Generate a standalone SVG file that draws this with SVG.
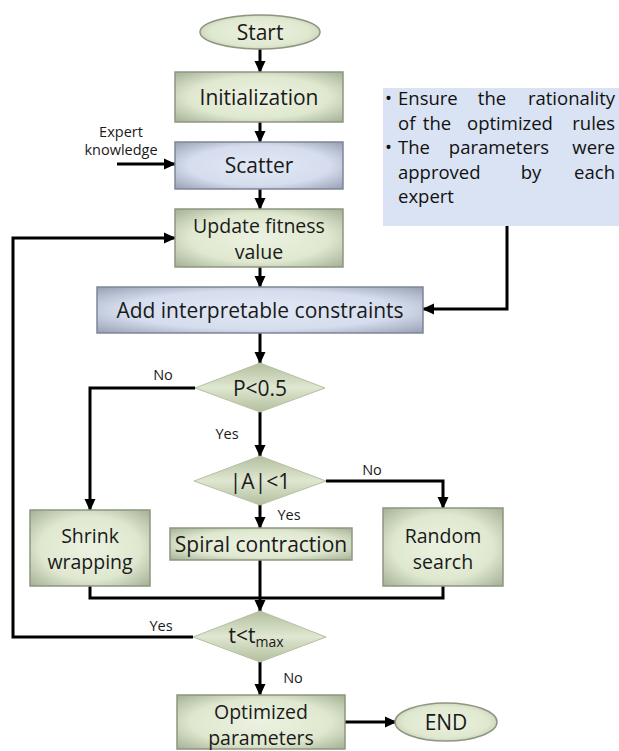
<svg xmlns="http://www.w3.org/2000/svg" width="619" height="751" viewBox="0 0 619 751">
<style>
.lbl{font-family:"Open Sans","Noto Sans",sans-serif;font-size:21px;fill:#1a1a1a;text-anchor:middle;dominant-baseline:central}
.l2{font-size:19.5px}
.sm{font-family:"Open Sans","Noto Sans",sans-serif;font-size:14.5px;fill:#1a1a1a;text-anchor:middle;dominant-baseline:central}
.note{font-family:"Open Sans","Noto Sans",sans-serif;font-size:18.5px;fill:#111}
.e{text-anchor:end}
.m{text-anchor:middle}
.g{fill:url(#gG);stroke:#8c9680;stroke-width:1.5}
.b{fill:url(#gB);stroke:#7d8699;stroke-width:1.5}
.d{fill:url(#gD);stroke:#b5c0a3;stroke-width:1}
.c{fill:none;stroke:#000;stroke-width:3}
</style>
<defs>
<radialGradient id="gG" cx="50%" cy="50%" r="70%">
<stop offset="0" stop-color="#ecf2e1"/><stop offset="0.6" stop-color="#dfe8cf"/><stop offset="1" stop-color="#a5b095"/>
</radialGradient>
<radialGradient id="gB" cx="50%" cy="50%" r="70%">
<stop offset="0" stop-color="#e2e8f5"/><stop offset="0.6" stop-color="#d5ddee"/><stop offset="1" stop-color="#98a1b4"/>
</radialGradient>
<linearGradient id="gD" x1="0" y1="0" x2="0" y2="1">
<stop offset="0" stop-color="#b3bf9f"/><stop offset="0.5" stop-color="#dfe7d0"/><stop offset="1" stop-color="#b3bf9f"/>
</linearGradient>
<marker id="ah" markerUnits="userSpaceOnUse" markerWidth="12" markerHeight="12" viewBox="0 0 12 12" refX="11" refY="6" orient="auto">
<path d="M0,0.5 L12,6 L0,11.5 Z" fill="#000"/>
</marker>
</defs>

<g id="connectors">
<line class="c" x1="260" y1="49" x2="260" y2="72" marker-end="url(#ah)"/>
<line class="c" x1="260" y1="122" x2="260" y2="142" marker-end="url(#ah)"/>
<line class="c" x1="117" y1="164" x2="175" y2="164" marker-end="url(#ah)"/>
<line class="c" x1="260" y1="189" x2="260" y2="209" marker-end="url(#ah)"/>
<line class="c" x1="260" y1="267" x2="260" y2="287" marker-end="url(#ah)"/>
<polyline class="c" points="507,226 507,309 423,309" marker-end="url(#ah)"/>
<line class="c" x1="260" y1="333" x2="260" y2="363" marker-end="url(#ah)"/>
<polyline class="c" points="195,388 90,388 90,510" marker-end="url(#ah)"/>
<line class="c" x1="260" y1="412" x2="260" y2="456" marker-end="url(#ah)"/>
<polyline class="c" points="326,481 443,481 443,508" marker-end="url(#ah)"/>
<line class="c" x1="260" y1="504" x2="260" y2="528" marker-end="url(#ah)"/>
<polyline class="c" points="90,586 90,598 443,598 443,586"/>
<line class="c" x1="260" y1="560" x2="260" y2="611" marker-end="url(#ah)"/>
<polyline class="c" points="193,637 13,637 13,238 175,238" marker-end="url(#ah)"/>
<line class="c" x1="260" y1="662" x2="260" y2="695" marker-end="url(#ah)"/>
<line class="c" x1="345" y1="722" x2="396" y2="722" marker-end="url(#ah)"/>
</g>

<g id="start"><ellipse class="g" cx="260" cy="32" rx="60" ry="17"/><text class="lbl" x="260" y="32">Start</text></g>
<g id="init"><rect class="g" x="175" y="72" width="168" height="50"/><text class="lbl" x="259" y="97">Initialization</text></g>
<g id="expert"><text class="sm" x="121" y="131">Expert</text><text class="sm" x="121" y="149">knowledge</text></g>
<g id="scatter"><rect class="b" x="175" y="142" width="168" height="47"/><text class="lbl" x="259" y="165">Scatter</text></g>
<g id="update"><rect class="g" x="175" y="209" width="168" height="58"/><text class="lbl l2" x="259" y="225">Update fitness</text><text class="lbl l2" x="259" y="251">value</text></g>
<g id="note">
<rect x="383" y="88" width="236" height="138" fill="#dae3f3"/>
<text class="note" x="385" y="105">•</text>
<text class="note" x="398" y="105">Ensure</text>
<text class="note m" x="492" y="105">the</text>
<text class="note e" x="615" y="105">rationality</text>
<text class="note" x="398" y="129.5">of</text>
<text class="note m" x="437" y="129.5">the</text>
<text class="note m" x="510" y="129.5">optimized</text>
<text class="note e" x="615" y="129.5">rules</text>
<text class="note" x="385" y="154">•</text>
<text class="note" x="398" y="154">The</text>
<text class="note m" x="499" y="154">parameters</text>
<text class="note e" x="615" y="154">were</text>
<text class="note" x="398" y="178.5">approved</text>
<text class="note m" x="531" y="178.5">by</text>
<text class="note e" x="615" y="178.5">each</text>
<text class="note" x="398" y="203">expert</text>
</g>
<g id="constraints"><rect class="b" x="97" y="287" width="326" height="46"/><text class="lbl" x="260" y="310">Add interpretable constraints</text></g>
<g id="p05"><polygon class="d" points="260,363 325,388 260,412 195,388"/><text class="lbl" x="260" y="388">P&lt;0.5</text></g>
<g id="lbl-no1"><text class="sm" x="163" y="374">No</text></g>
<g id="lbl-yes1"><text class="sm" x="227" y="433">Yes</text></g>
<g id="a1"><polygon class="d" points="260,456 326,481 260,505 194,481"/><text class="lbl" x="260" y="481">|A|&lt;1</text></g>
<g id="lbl-no2"><text class="sm" x="372" y="469">No</text></g>
<g id="lbl-yes2"><text class="sm" x="289" y="514">Yes</text></g>
<g id="shrink"><rect class="g" x="30" y="510" width="120" height="76"/><text class="lbl l2" x="90" y="535">Shrink</text><text class="lbl l2" x="90" y="561">wrapping</text></g>
<g id="spiral"><rect class="g" x="170" y="528" width="182" height="32"/><text class="lbl" x="261" y="544">Spiral contraction</text></g>
<g id="random"><rect class="g" x="383" y="508" width="120" height="78"/><text class="lbl l2" x="443" y="535">Random</text><text class="lbl l2" x="443" y="561">search</text></g>
<g id="tmax"><polygon class="d" points="260,611 326,637 260,662 193,637"/><text class="lbl" x="256" y="635">t&lt;t<tspan font-size="14" dy="6">max</tspan></text></g>
<g id="lbl-yes3"><text class="sm" x="161" y="625">Yes</text></g>
<g id="lbl-no3"><text class="sm" x="293" y="677">No</text></g>
<g id="optimized"><rect class="g" x="177" y="695" width="168" height="54"/><text class="lbl l2" x="261" y="711">Optimized</text><text class="lbl l2" x="261" y="737">parameters</text></g>
<g id="end"><ellipse class="g" cx="446" cy="722" rx="51" ry="19"/><text class="lbl" x="446" y="722">END</text></g>
</svg>
